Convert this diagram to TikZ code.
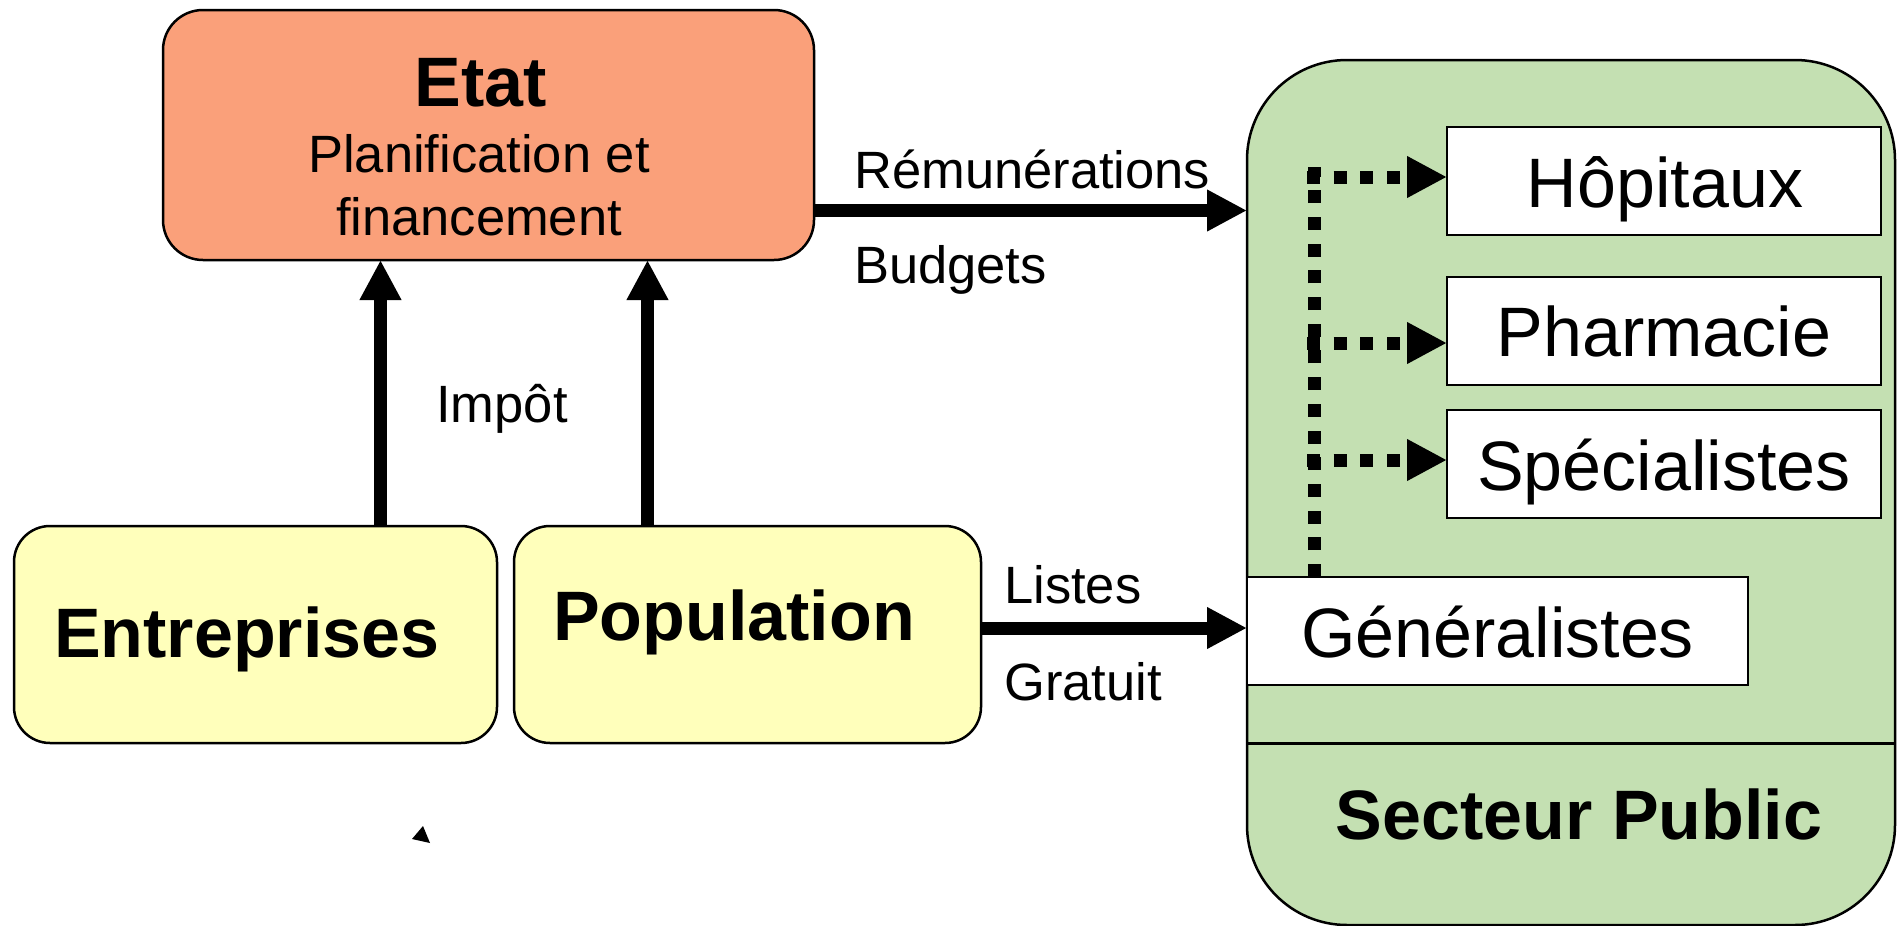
\documentclass[tikz,border=0pt]{standalone}
\usepackage{fontspec}
\setmainfont{Liberation Sans}
\usetikzlibrary{arrows.meta}
\definecolor{etatfill}{RGB}{250,160,122}
\definecolor{yfill}{RGB}{255,255,187}
\definecolor{gfill}{RGB}{196,224,178}
\begin{document}
\begin{tikzpicture}[x=1pt,y=-1pt,
  box/.style={draw=black, line width=2.5pt, inner sep=0pt, outer sep=0pt, rectangle},
  rbox/.style={box, rounded corners=36pt},
  wbox/.style={box, fill=white, minimum width=434pt, minimum height=108pt},
  bigarrow/.style={line width=13pt, -{Triangle[length=40pt,width=39pt]}},
  dotline/.style={line width=13pt, dash pattern=on 13pt off 13.7pt},
  dotarrow/.style={dotline, -{Triangle[length=40pt,width=39pt]}},
  lbl/.style={inner sep=0pt, anchor=base, font=\fontsize{52.5}{60}\selectfont},
  lblw/.style={lbl, anchor=base west},
  biglbl/.style={inner sep=0pt, anchor=base, font=\fontsize{70}{80}\selectfont},
  boldlbl/.style={biglbl, font=\fontsize{70}{80}\selectfont\bfseries},
]
\useasboundingbox (0,0) rectangle (1898,926);

% Secteur public container
\node[rbox, rounded corners=100pt, fill=gfill, minimum width=648pt, minimum height=865pt] (green) at (1571,492.5) {};
\draw[line width=3pt] (green.west |- 0,743) -- (green.east |- 0,743);
\node[boldlbl] (sp) at (1579,839) {Secteur Public};

% Etat
\node[rbox, rounded corners=40pt, fill=etatfill, minimum width=651pt, minimum height=250pt] (etat) at (488.5,135) {};
\node[boldlbl] (etatT) at (481,106) {Etat};
\node[lbl] (plan) at (479,172) {Planification et};
\node[lbl] (fin) at (479,235) {financement};

% Entreprises / Population
\node[rbox, fill=yfill, minimum width=483pt, minimum height=217pt] (ent) at (255.5,634.5) {};
\node[rbox, fill=yfill, minimum width=467pt, minimum height=217pt] (pop) at (747.5,634.5) {};
\node[boldlbl, anchor=base west] (entT) at (54,657) {Entreprises};
\node[boldlbl, anchor=base west] (popT) at (553,640) {Population};

% white boxes
\node[wbox] (hop) at (1664,181) {};
\node[wbox] (pha) at (1664,331) {};
\node[wbox] (spe) at (1664,464) {};
\node[wbox, minimum width=501pt] (gen) at (1497.5,631) {};
\node[biglbl] (hopT) at (1665,207) {Hôpitaux};
\node[biglbl] (phaT) at (1664,356) {Pharmacie};
\node[biglbl] (speT) at (1664,490) {Spécialistes};
\node[biglbl] (genT) at (1497.5,657) {Généralistes};

% dotted connectors
\coordinate (bus) at (1314,0);
\coordinate (hopin) at ([yshift=4pt]hop.west);
\coordinate (phain) at ([yshift=-12pt]pha.west);
\coordinate (spein) at ([yshift=4pt]spe.west);
\draw[dotline] (bus |- gen.north) -- (bus |- 0,167);
\draw[dotarrow] ([xshift=-7pt]bus |- hopin) -- (hopin);
\draw[dotarrow] ([xshift=-7pt]bus |- phain) -- (phain);
\draw[dotarrow] ([xshift=-7pt]bus |- spein) -- (spein);

% big arrows
\draw[bigarrow] (etat.east |- 0,210.5) -- (green.west |- 0,210.5);
\draw[bigarrow] (pop.east |- 0,628) -- (gen.west |- 0,628);
\draw[bigarrow] (380.5,0 |- ent.north) -- (380.5,0 |- etat.south);
\draw[bigarrow] (647.5,0 |- pop.north) -- (647.5,0 |- etat.south);

% labels
\node[lblw] (rem) at (854,188) {Rémunérations};
\node[lblw] (bud) at (854,283) {Budgets};
\node[lbl] (imp) at (502,422) {Impôt};
\node[lblw] (lis) at (1004,603) {Listes};
\node[lblw] (gra) at (1004,700) {Gratuit};

% stray arrow head
\fill (412,839) -- (423,826) -- (430,843) -- cycle;
\end{tikzpicture}
\end{document}
